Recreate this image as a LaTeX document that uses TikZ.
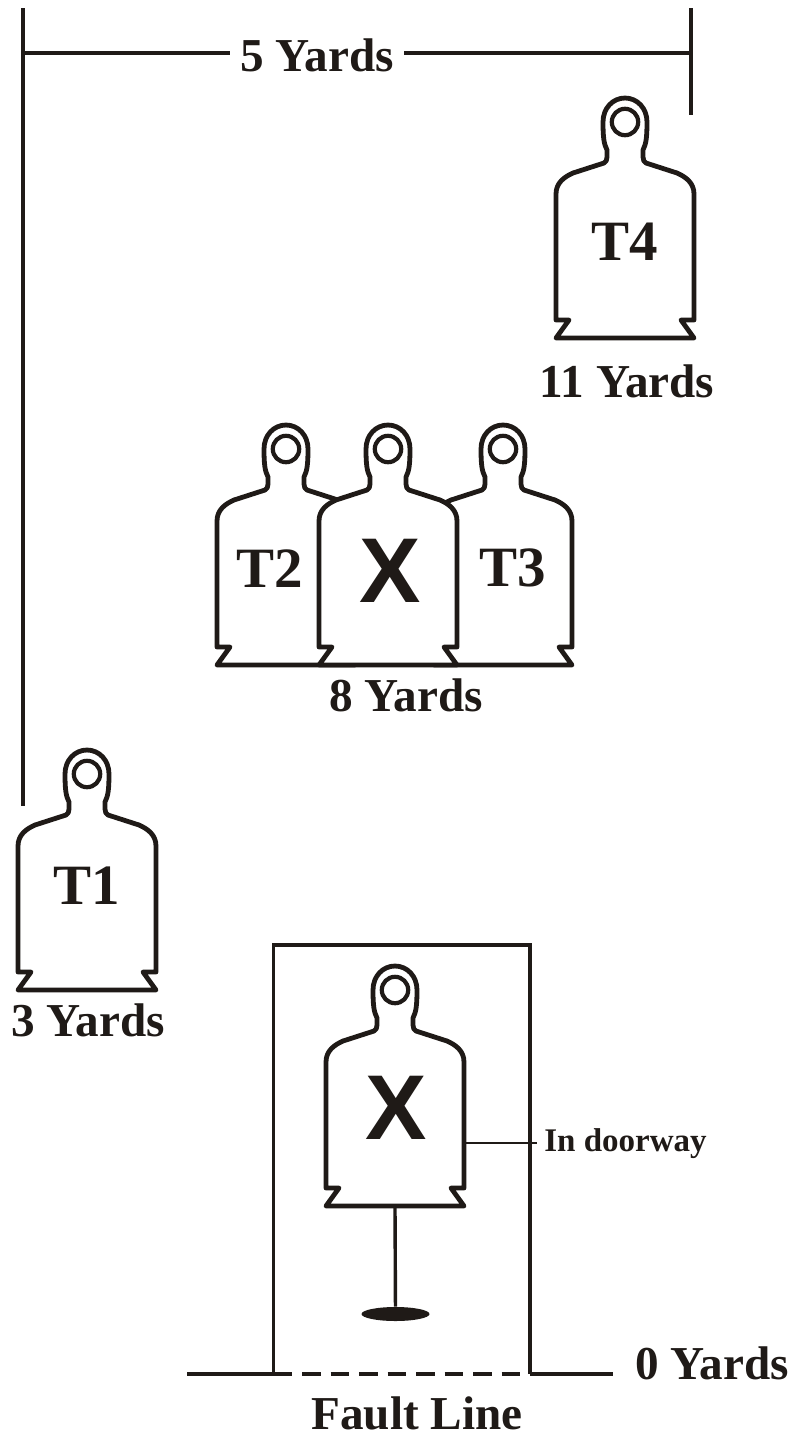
\documentclass[tikz,border=0pt]{standalone}
\usepackage{fontspec}
\usetikzlibrary{shapes.geometric}
\setmainfont{Liberation Serif}
\newfontfamily\xfont{Liberation Sans}
\definecolor{ink}{HTML}{1F1A17}
\tikzset{
  x=0.5pt,y=-0.5pt,
  shapeline/.style={draw=ink,line width=2.4pt,line join=round,line cap=round,fill=white},
  rule/.style={draw=ink,line width=1.8pt},
  big/.style={text=ink,inner sep=0pt,font=\fontsize{23.6}{26}\selectfont\bfseries},
  tag/.style={text=ink,inner sep=0pt,font=\fontsize{28.5}{30}\selectfont\bfseries},
  cross/.style={text=ink,inner sep=0pt,font=\fontsize{46}{50}\xfont\bfseries},
  small/.style={text=ink,inner sep=0pt,font=\fontsize{16.5}{18}\selectfont\bfseries},
  silhouette/.pic={
    \path[shapeline]
      (-69,240) -- (69,240) -- (56,222) -- (69,222) -- (69,96)
      .. controls (69,85) and (61,79) .. (52,75)
      -- (21,65) .. controls (19,64) and (18,62) .. (18,59)
      -- (18,52) .. controls (21,46) and (22,40) .. (22,24)
      .. controls (22,10) and (12,0) .. (0,0)
      .. controls (-12,0) and (-22,10) .. (-22,24)
      .. controls (-22,40) and (-21,46) .. (-18,52)
      -- (-18,59) .. controls (-18,62) and (-19,64) .. (-21,65)
      -- (-52,75) .. controls (-61,79) and (-69,85) .. (-69,96)
      -- (-69,222) -- (-56,222) -- cycle;
    \path[draw=ink,line width=2.1pt,fill=white] (0,24) circle[radius=6.6pt];
  }
}
\begin{document}
\begin{tikzpicture}
\useasboundingbox (0,0) rectangle (795,1437);
% dimension
\coordinate (dimL) at (23,53);
\coordinate (dimLtop) at (23,8);
\coordinate (dimLbot) at (23,806);
\coordinate (dimR) at (691,53);
\coordinate (dimRtop) at (691,8);
\coordinate (dimRbot) at (691,115);
\node[big,inner xsep=5pt] (five) at (317,55) {5 Yards};
\draw[rule] (dimLtop) -- (dimLbot);
\draw[rule] (dimRtop) -- (dimRbot);
\draw[rule] (dimL) -- (five.west |- dimL);
\draw[rule] (five.east |- dimR) -- (dimR);
% T4
\pic at (625,98) {silhouette};
\node[tag] (t4) at (625,242) {T4};
\node[big] (y11) at (627,381) {11 Yards};
% cluster
\pic at (286,425) {silhouette};
\pic at (503,425) {silhouette};
\pic at (388,425) {silhouette};
\node[tag] (t2) at (270,569) {T2};
\node[cross] (x1) at (390,571) {X};
\node[tag] (t3) at (513,568) {T3};
\node[big] (y8) at (406,695) {8 Yards};
% T1
\pic at (87,750) {silhouette};
\node[tag] (t1) at (87,886) {T1};
\node[big] (y3) at (88,1020) {3 Yards};
% door
\coordinate (dl) at (273.5,945);
\coordinate (dr) at (530,945);
\coordinate (fl) at (273.5,1374);
\coordinate (fr) at (530,1374);
\draw[rule] (fl) -- (dl) -- (dr) -- (fr);
\coordinate (st) at (395,1206);
\node[ellipse,fill=ink,minimum width=34pt,minimum height=7pt,inner sep=0pt] (base) at (395.5,1314) {};
\draw[draw=ink,line width=1.7pt] (st) -- (base);
\pic at (395,966) {silhouette};
\node[cross] (x2) at (396,1108) {X};
\coordinate (sideR) at (464,1143);
\coordinate (sideE) at (537,1143);
\node[small,anchor=west] (door) at (544,1144) {In doorway};
\draw[draw=ink,line width=1.4pt] (sideR) -- (sideE);
% fault line
\coordinate (faL) at (187,1374);
\coordinate (faR) at (613,1374);
\draw[rule] (faL) -- (fl);
\draw[rule] (fr) -- (faR);
\draw[rule,dash pattern=on 9.25pt off 5pt] (fl) -- (fr);
\node[big] (zero) at (712,1363) {0 Yards};
\node[big] (fault) at (417,1413) {Fault Line};
\end{tikzpicture}
\end{document}
